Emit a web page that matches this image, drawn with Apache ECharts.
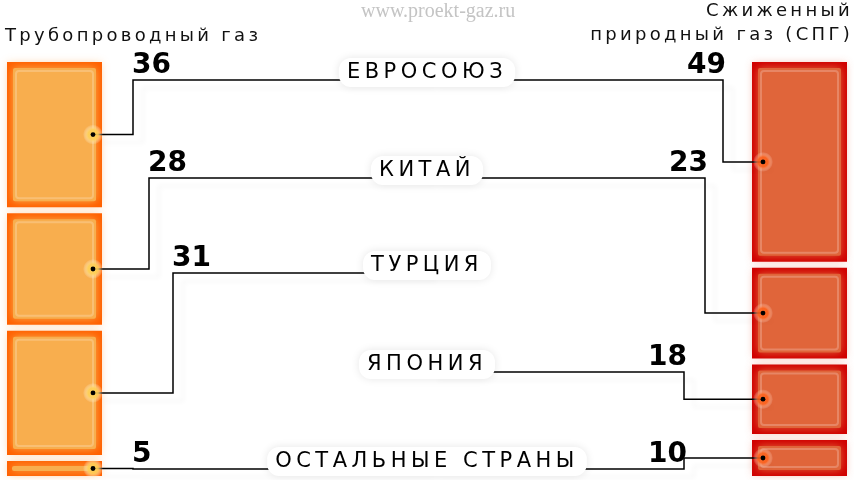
<!DOCTYPE html>
<html>
<head>
<meta charset="utf-8">
<script src="https://cdn.jsdelivr.net/npm/echarts@6/dist/echarts.min.js"></script>
<style>
html, body { margin: 0; padding: 0; background: #fff; }
#main { width: 854px; height: 480px; }
</style>
</head>
<body>
<div id="main"></div>
<script>
// доли рынка, %
var pipeCountries = ['ЕВРОСОЮЗ', 'КИТАЙ', 'ТУРЦИЯ', 'ОСТАЛЬНЫЕ СТРАНЫ'];
var pipeValues = [36, 28, 31, 5];
var lngCountries = ['ЕВРОСОЮЗ', 'КИТАЙ', 'ЯПОНИЯ', 'ОСТАЛЬНЫЕ СТРАНЫ'];
var lngValues = [49, 23, 18, 10];
var countries = ['ЕВРОСОЮЗ', 'КИТАЙ', 'ТУРЦИЯ', 'ЯПОНИЯ', 'ОСТАЛЬНЫЕ СТРАНЫ'];
var headers = ['Трубопроводный газ', 'Сжиженный\nприродный газ (СПГ)'];

// раскладка (пиксели)
var rowY = [80, 178, 273, 372, 469];
var labelX = 427;
var pipeElbow = [133, 149, 173, 133];
var lngElbow = [723, 705, 684, 684];
var GAP = 3;

function stack(values) {
    var acc = 0;
    return values.map(function (v) {
        var item = [acc, acc + v, v];
        acc += v;
        return item;
    });
}

var chart = echarts.init(document.getElementById('main'));
// разрядка букв: подписи стран (zlevel 3), заголовки (zlevel 4)
var painter = chart.getZr().painter;
[[3, '4.5px'], [4, '3.3px']].forEach(function (p) {
    var layer = painter && painter.getLayer && painter.getLayer(p[0]);
    if (layer && layer.ctx) {
        layer.ctx.letterSpacing = p[1];
    }
});

function column(x0, x1, edge, inner, glow) {
    return function (params, api) {
        var a = api.coord([x0, api.value(0)]);
        var b = api.coord([x1, api.value(1)]);
        var x = a[0], y = a[1] + GAP, w = b[0] - a[0], h = b[1] - a[1] - 2 * GAP;
        var inset = Math.min(6, h / 3);
        var children = [
            { type: 'rect', shape: { x: x, y: y, width: w, height: h },
              style: { fill: edge, shadowBlur: 8, shadowColor: glow } },
            { type: 'rect', shape: { x: x + inset, y: y + inset, width: w - 2 * inset, height: h - 2 * inset, r: 2 },
              style: { fill: inner, shadowBlur: 8, shadowColor: inner } }
        ];
        if (h - 2 * inset - 6 > 4) {
            children.push({ type: 'rect',
                shape: { x: x + inset + 3, y: y + inset + 3, width: w - 2 * inset - 6, height: h - 2 * inset - 6, r: 3 },
                style: { fill: 'none', stroke: 'rgba(255,255,255,0.22)', lineWidth: 2 } });
        }
        return { type: 'group', children: children };
    };
}

function connector(names, elbows, dotX, left, glowColor) {
    return function (params, api) {
        var i = params.dataIndex;
        var yc = api.coord([dotX, (api.value(0) + api.value(1)) / 2])[1];
        var ex = elbows[i];
        var ry = rowY[countries.indexOf(names[i])];
        var pts = left
            ? [[dotX, yc], [ex, yc], [ex, ry], [labelX, ry]]
            : [[labelX, ry], [ex, ry], [ex, yc], [dotX, yc]];
        return {
            type: 'group',
            children: [
                { type: 'polyline', shape: { points: pts },
                  style: { fill: 'none', stroke: '#000', lineWidth: 1.5,
                           shadowColor: 'rgba(0,0,0,0.06)', shadowBlur: 5, shadowOffsetX: 10, shadowOffsetY: 8 } },
                { type: 'circle', shape: { cx: dotX, cy: yc, r: 10 },
                  style: { fill: new echarts.graphic.RadialGradient(0.5, 0.5, 0.5, [
                      { offset: 0, color: glowColor },
                      { offset: 0.5, color: glowColor },
                      { offset: 1, color: 'rgba(255,255,255,0)' }
                  ]) } },
                { type: 'circle', shape: { cx: dotX, cy: yc, r: 2.4 }, style: { fill: '#000' } },
                { type: 'text',
                  style: { text: String(api.value(2)), x: left ? ex - 1 : ex + 3, y: ry - 14.5,
                           align: left ? 'left' : 'right', verticalAlign: 'middle',
                           font: 'bold 28px "DejaVu Sans"', fill: '#000' } }
            ]
        };
    };
}

var option = {
    backgroundColor: '#fff',
    animation: false,
    title: {
        text: 'www.proekt-gaz.ru',
        left: 361,
        top: 2,
        padding: 0,
        textStyle: { fontFamily: 'Liberation Serif', fontSize: 20, fontWeight: 'normal', color: '#c4c4c4' }
    },
    grid: { left: 0, right: 0, top: 59, bottom: 1 },
    xAxis: { type: 'value', min: 0, max: 854, show: false },
    yAxis: { type: 'value', min: 0, max: 100, inverse: true, show: false },
    series: [
        {
            name: 'Трубопроводный газ',
            type: 'custom',
            renderItem: column(7, 102, '#ff6000', '#f8ae4e', 'rgba(255,150,60,0.25)'),
            data: stack(pipeValues)
        },
        {
            name: 'Сжиженный природный газ (СПГ)',
            type: 'custom',
            renderItem: column(752, 847, '#d00000', '#e0653a', 'rgba(230,90,60,0.2)'),
            data: stack(lngValues)
        },
        {
            type: 'custom',
            renderItem: connector(pipeCountries, pipeElbow, 93, true, 'rgba(255,210,90,0.9)'),
            data: stack(pipeValues)
        },
        {
            type: 'custom',
            renderItem: connector(lngCountries, lngElbow, 763, false, 'rgba(255,100,30,0.85)'),
            data: stack(lngValues)
        },
        {
            type: 'custom',
            zlevel: 3,
            renderItem: function (params, api) {
                var name = countries[params.dataIndex];
                return {
                    type: 'text',
                    style: {
                        text: name, x: labelX, y: rowY[params.dataIndex] - 7.5,
                        align: 'center', verticalAlign: 'middle',
                        font: '21px "DejaVu Sans"', fill: '#000',
                        backgroundColor: '#fff', borderRadius: 12,
                        padding: [4, 8 + name.length * 2.25],
                        shadowBlur: 8, shadowColor: 'rgba(0,0,0,0.1)'
                    }
                };
            },
            data: countries.map(function (c, i) { return [labelX, i]; })
        },
        {
            type: 'custom',
            zlevel: 4,
            renderItem: function (params, api) {
                var left = params.dataIndex === 0;
                return {
                    type: 'text',
                    style: {
                        text: headers[params.dataIndex],
                        x: left ? 5 : 853, y: left ? 36.5 : 23.5,
                        align: left ? 'left' : 'right', verticalAlign: 'middle',
                        font: '18px "DejaVu Sans"', fill: '#111', lineHeight: 24
                    }
                };
            },
            data: headers.map(function (h, i) { return [0, i]; })
        }
    ]
};

chart.setOption(option);
</script>
</body>
</html>
